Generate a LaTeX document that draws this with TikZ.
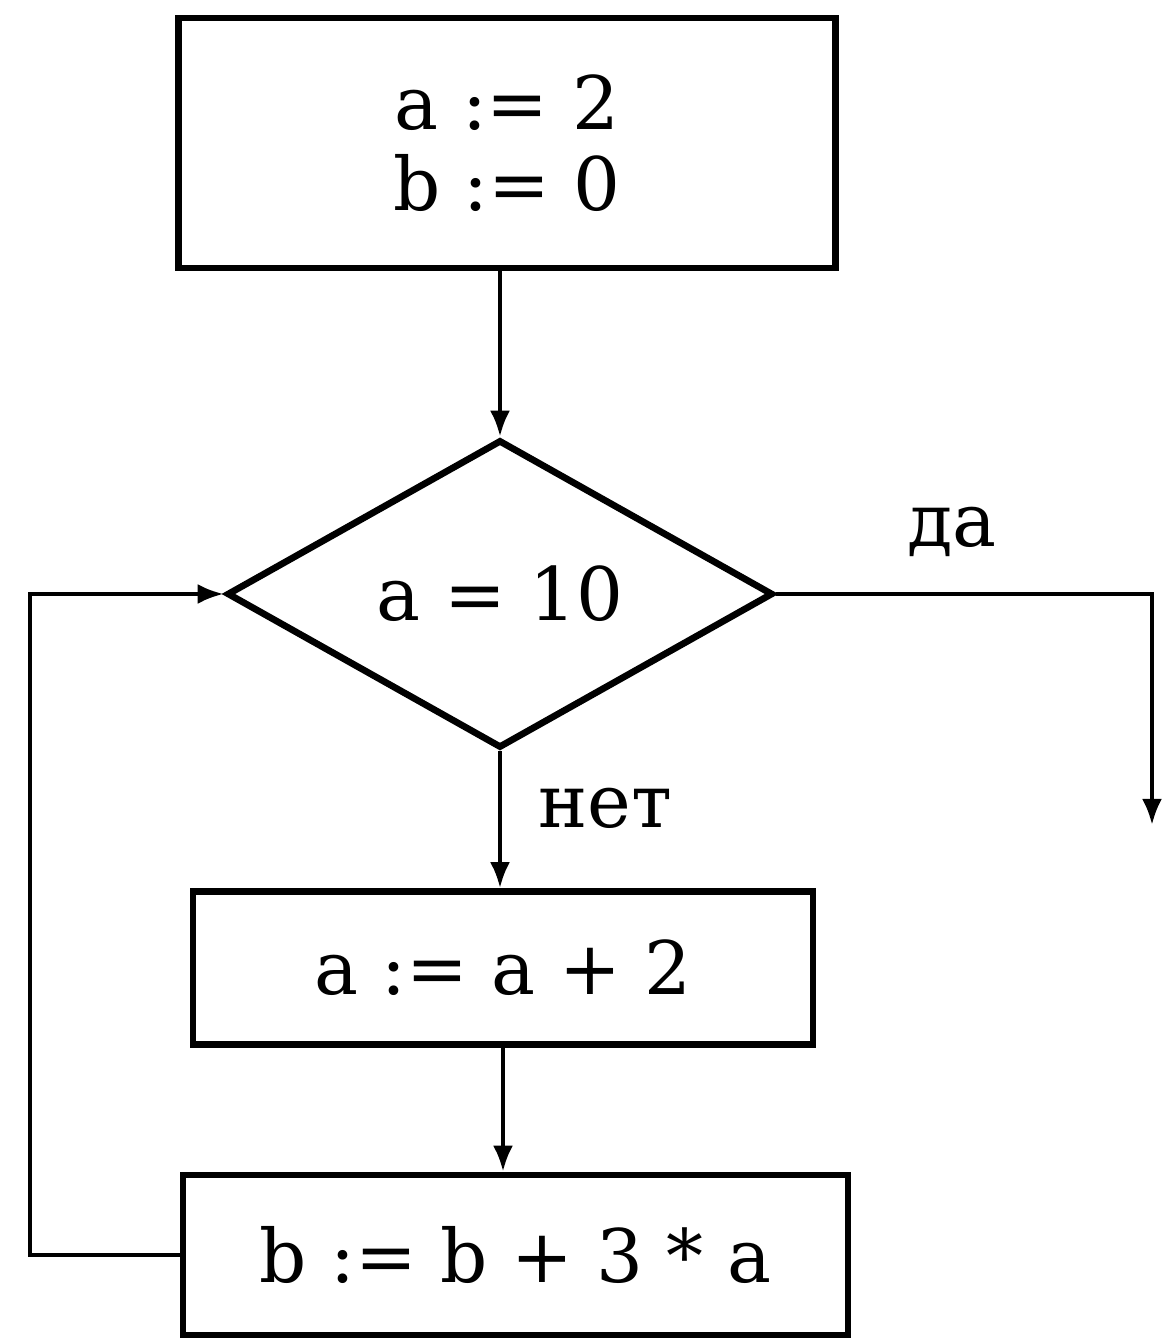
\documentclass[tikz,border=0pt]{standalone}
\usepackage{fontspec}
\setmainfont{DejaVu Serif}
\usetikzlibrary{shapes.geometric,arrows.meta}

\begin{document}
\begin{tikzpicture}[
  box/.style={draw,line width=1.9pt,font=\fontsize{21}{23}\selectfont,align=center},
  cond/.style={draw,diamond,line width=1.9pt,inner sep=0pt,minimum width=5.46cm,minimum height=3.08cm,font=\fontsize{21}{23}\selectfont},
  flow/.style={line width=1.2pt,-{Latex[length=2.6mm,width=2mm]}},
  lbl/.style={font=\fontsize{21}{23}\selectfont}]
\useasboundingbox (0,0) rectangle (11.72,13.40);
\node[box,minimum width=6.57cm,minimum height=2.5cm] (init) at (5.07,11.97) {a :=~2\\b :=~0};
\node[cond] (test) at (5.0,7.46) {a = 10};
\node[box,minimum width=6.2cm,minimum height=1.53cm] (inca) at (5.03,3.72) {a := a + 2};
\node[box,minimum width=6.65cm,minimum height=1.6cm] (sumb) at (5.155,0.85) {b := b + 3 * a};
\coordinate (exit) at (11.52,5.15);
\coordinate (back) at (0.3,0);
\draw[flow] (init.south -| test.north) -- (test.north);
\draw[flow] (test.south) -- (test.south |- inca.north);
\draw[flow] (inca.south) -- (inca.south |- sumb.north);
\draw[flow] (test.east) -| (exit);
\draw[flow] (sumb.west) -- (sumb.west -| back) |- (test.west);
\node[lbl] (yes) at (9.52,8.08) {да};
\node[lbl] (no) at (6.05,5.32) {нет};
\end{tikzpicture}
\end{document}
